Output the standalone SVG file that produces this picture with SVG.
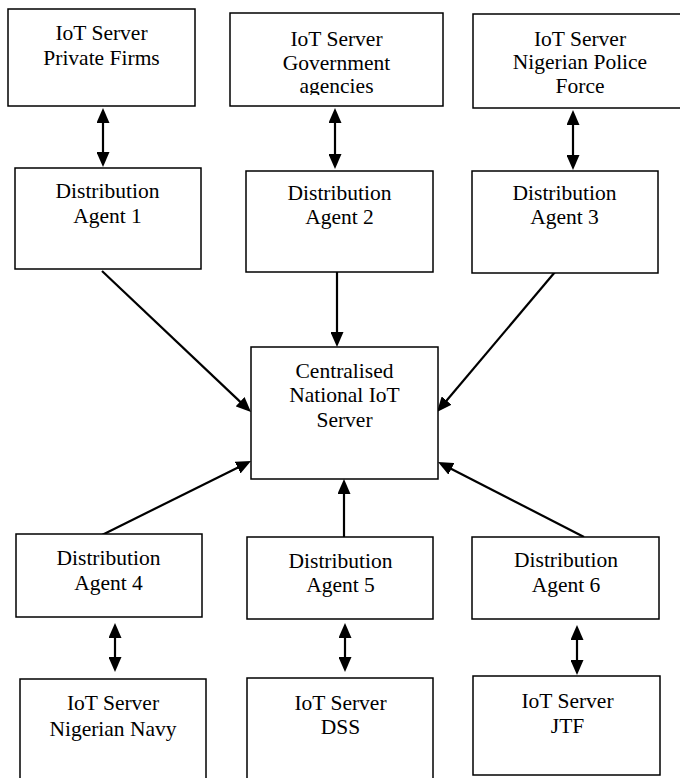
<svg xmlns="http://www.w3.org/2000/svg" width="680" height="778" viewBox="0 0 680 778">
<style>
.box{fill:#fff;stroke:#000;stroke-width:1.5}
.t{font-family:"Liberation Serif","Times New Roman",serif;font-size:21.5px;fill:#000;text-anchor:middle}
.c{stroke:#000;stroke-width:2.2;fill:none}
.a{marker-end:url(#ah)}
.d{marker-start:url(#ah);marker-end:url(#ah)}
</style>
<defs>
<marker id="ah" viewBox="0 0 15 13" markerWidth="15" markerHeight="13" markerUnits="userSpaceOnUse" refX="1" refY="6.5" orient="auto-start-reverse">
<path d="M0,0 L15,6.5 L0,13 z" fill="#000"/>
</marker>
<clipPath id="clip2"><rect x="230" y="13" width="213" height="82"/></clipPath>
</defs>
<rect width="680" height="778" fill="#fff"/>
<g id="connectors">
<line class="c d" x1="103" y1="122" x2="103" y2="153"/>
<line class="c d" x1="335" y1="122" x2="335" y2="155"/>
<line class="c d" x1="573" y1="124" x2="573" y2="156"/>
<line class="c a" x1="102" y1="271" x2="240.8" y2="402.4"/>
<line class="c a" x1="337" y1="272" x2="337" y2="333"/>
<line class="c a" x1="555" y1="272" x2="446" y2="401.3"/>
<line class="c a" x1="102" y1="535" x2="238.5" y2="467.2"/>
<line class="c a" x1="344" y1="537" x2="344" y2="493"/>
<line class="c a" x1="584" y1="537" x2="450.5" y2="468.4"/>
<line class="c d" x1="115" y1="637" x2="115" y2="658"/>
<line class="c d" x1="345" y1="637" x2="345" y2="658"/>
<line class="c d" x1="577" y1="639" x2="577" y2="661"/>
</g>
<g id="srv-private">
<rect class="box" x="8" y="9" width="187" height="97"/>
<text class="t" x="101.5" y="40">IoT Server</text>
<text class="t" x="101.5" y="64.5">Private Firms</text>
</g>
<g id="srv-gov">
<rect class="box" x="230" y="13" width="213" height="93"/>
<g clip-path="url(#clip2)">
<text class="t" x="336.5" y="46">IoT Server</text>
<text class="t" x="336.5" y="69.5">Government</text>
<text class="t" x="336.5" y="93">agencies</text>
</g>
</g>
<g id="srv-police">
<rect class="box" x="473" y="14" width="215" height="94"/>
<text class="t" x="580" y="45.5">IoT Server</text>
<text class="t" x="580" y="69">Nigerian Police</text>
<text class="t" x="580" y="93">Force</text>
</g>
<g id="agent1">
<rect class="box" x="15" y="168" width="186" height="101"/>
<text class="t" x="107.5" y="198">Distribution</text>
<text class="t" x="107.5" y="222.5">Agent 1</text>
</g>
<g id="agent2">
<rect class="box" x="246" y="171" width="187" height="101"/>
<text class="t" x="339.5" y="200">Distribution</text>
<text class="t" x="339.5" y="224">Agent 2</text>
</g>
<g id="agent3">
<rect class="box" x="472" y="171" width="186" height="102"/>
<text class="t" x="564.5" y="200">Distribution</text>
<text class="t" x="564.5" y="224">Agent 3</text>
</g>
<g id="central">
<rect class="box" x="251" y="347" width="187" height="132"/>
<text class="t" x="344.5" y="377.5">Centralised</text>
<text class="t" x="344.5" y="402.3">National IoT</text>
<text class="t" x="344.5" y="426.7">Server</text>
</g>
<g id="agent4">
<rect class="box" x="16" y="534" width="186" height="83"/>
<text class="t" x="108.5" y="565">Distribution</text>
<text class="t" x="108.5" y="590">Agent 4</text>
</g>
<g id="agent5">
<rect class="box" x="247" y="537" width="186" height="82"/>
<text class="t" x="340.5" y="567.7">Distribution</text>
<text class="t" x="340.5" y="592.3">Agent 5</text>
</g>
<g id="agent6">
<rect class="box" x="472" y="537" width="187" height="82"/>
<text class="t" x="566" y="566.7">Distribution</text>
<text class="t" x="566" y="591.7">Agent 6</text>
</g>
<g id="srv-navy">
<rect class="box" x="20" y="679" width="186" height="111"/>
<text class="t" x="113" y="710">IoT Server</text>
<text class="t" x="113" y="735.5">Nigerian Navy</text>
</g>
<g id="srv-dss">
<rect class="box" x="247" y="678" width="186" height="112"/>
<text class="t" x="340.5" y="710">IoT Server</text>
<text class="t" x="340.5" y="734">DSS</text>
</g>
<g id="srv-jtf">
<rect class="box" x="473" y="676" width="187" height="99"/>
<text class="t" x="567.5" y="708">IoT Server</text>
<text class="t" x="567.5" y="732.5">JTF</text>
</g>
</svg>
